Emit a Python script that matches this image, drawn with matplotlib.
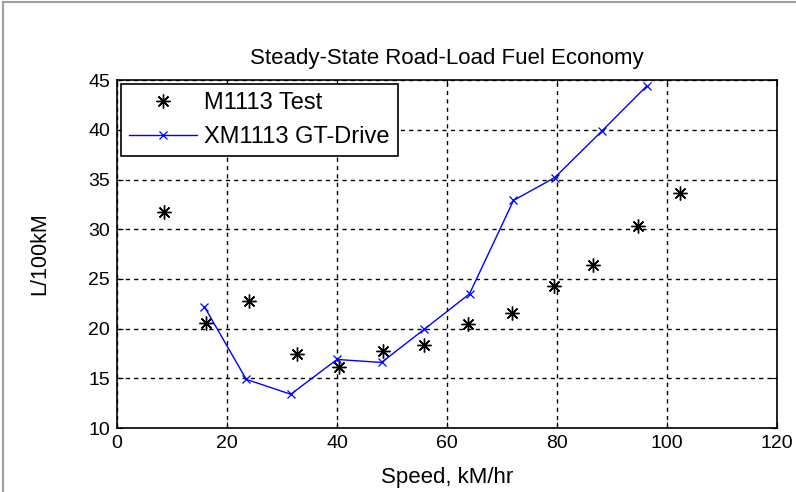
import matplotlib
matplotlib.use("Agg")
import matplotlib.pyplot as plt
from matplotlib.lines import Line2D

plt.rcParams['font.family'] = ['Liberation Sans', 'DejaVu Sans']

# M1113 test points
test_speed = [8.6, 16.2, 24.0, 32.7, 40.4, 48.4, 55.9, 63.9, 71.8, 79.4, 86.5, 94.7, 102.4]
test_fuel = [31.7, 20.6, 22.8, 17.4, 16.1, 17.8, 18.4, 20.5, 21.6, 24.3, 26.4, 30.3, 33.6]

# XM1113 GT-Drive simulation
sim_speed = [15.9, 23.5, 31.6, 40.0, 48.1, 55.9, 64.1, 72.1, 79.6, 88.2, 96.3]
sim_fuel = [22.2, 14.9, 13.4, 16.9, 16.6, 19.95, 23.5, 32.9, 35.2, 39.9, 44.4]

fig = plt.figure(figsize=(7.96, 4.92), dpi=100)
ax = fig.add_axes([0.147, 0.130, 0.829, 0.707])

ax.plot(test_speed, test_fuel, linestyle='none', marker=(8, 2, 0), markersize=10,
        color='black', markeredgewidth=1.0, label='M1113 Test')
ax.plot(sim_speed, sim_fuel, color='blue', linewidth=1, marker='x', markersize=6,
        markeredgewidth=0.9, label='XM1113 GT-Drive')

ax.set_xlim(0, 120)
ax.set_ylim(10, 45)
ax.set_xticks(range(0, 121, 20))
ax.set_yticks(range(10, 46, 5))
ax.grid(True, color='black', linestyle=(0, (3, 3)), linewidth=1)
ax.tick_params(direction='in', top=True, right=True, labelsize=14, length=4, pad=5)
for s in ax.spines.values():
    s.set_linewidth(1.2)

ax.set_title('Steady-State Road-Load Fuel Economy', fontsize=16, pad=12)
ax.set_xlabel('Speed, kM/hr', fontsize=16, labelpad=11)
ax.set_ylabel('L/100kM', fontsize=15.5, labelpad=27)

leg = ax.legend(loc='upper left', fontsize=17, fancybox=False, framealpha=1,
                edgecolor='black', borderaxespad=0.15, handlelength=2.9,
                handletextpad=0.3, labelspacing=0.5, borderpad=0.35)
leg.get_frame().set_linewidth(1.2)

# screenshot frame
fig.add_artist(Line2D([0.004, 0.004], [0, 0.996], color='#a0a0a0', linewidth=1.5))
fig.add_artist(Line2D([0.004, 1], [0.996, 0.996], color='#a0a0a0', linewidth=1.5))

fig.savefig('out.png', dpi=100)
